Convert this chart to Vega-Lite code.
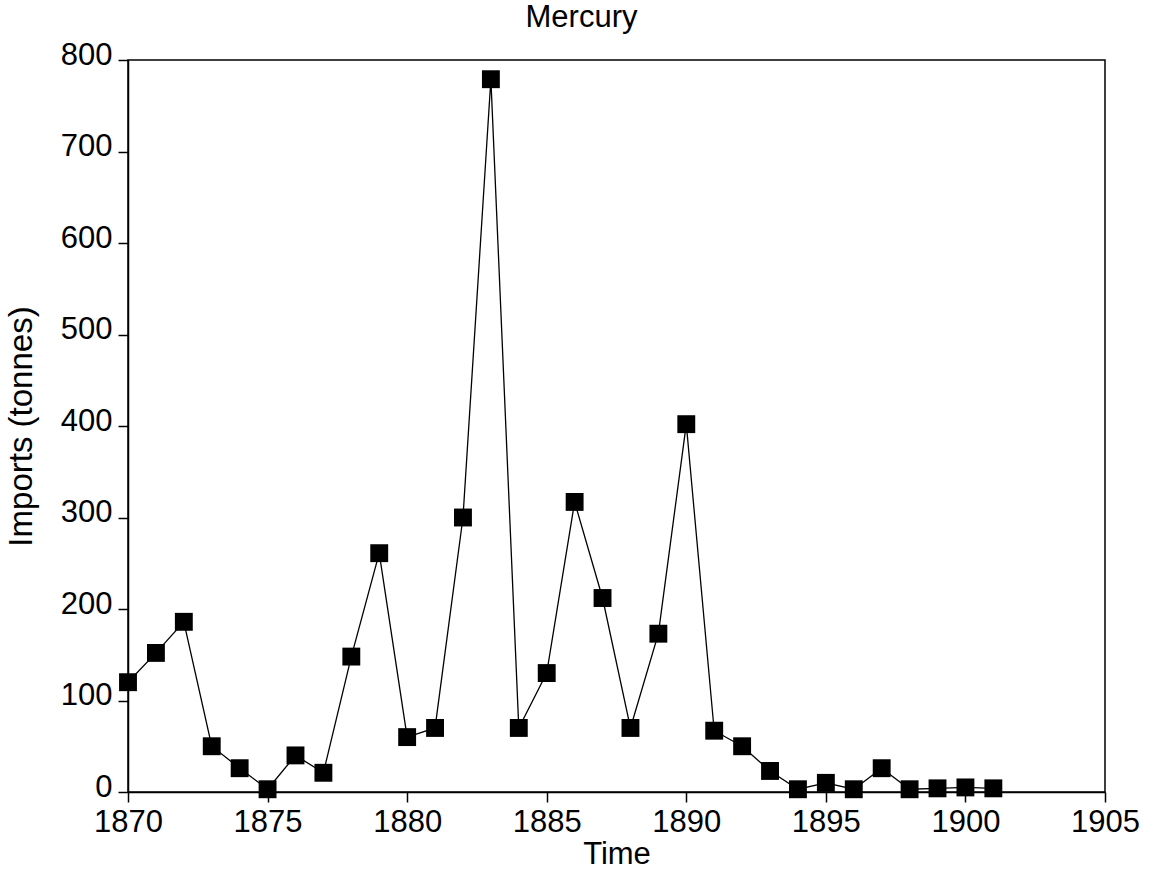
{
  "$schema": "https://vega.github.io/schema/vega-lite/v6.json",
  "width": 977,
  "height": 732,
  "autosize": {"type": "none"},
  "padding": {"left": 128, "top": 60, "right": 50, "bottom": 77},
  "background": "white",
  "title": {"text": "Mercury", "font": "Liberation Sans", "fontSize": 31, "fontWeight": "normal", "color": "black", "offset": 5, "dx": -35},
  "config": {
    "view": {"stroke": "black", "strokeWidth": 1.5},
    "axis": {"grid": false, "domainColor": "black", "domainWidth": 1.5, "tickColor": "black", "tickSize": 10, "tickWidth": 1.5,
      "labelFont": "Liberation Sans", "labelFontSize": 31, "labelColor": "black",
      "titleFont": "Liberation Sans", "titleFontSize": 31, "titleFontWeight": "normal", "titleColor": "black"}
  },
  "data": {"values": [
    {"year": 1870, "imports": 120},
    {"year": 1871, "imports": 152},
    {"year": 1872, "imports": 186},
    {"year": 1873, "imports": 50},
    {"year": 1874, "imports": 26},
    {"year": 1875, "imports": 3},
    {"year": 1876, "imports": 40},
    {"year": 1877, "imports": 21},
    {"year": 1878, "imports": 148},
    {"year": 1879, "imports": 261},
    {"year": 1880, "imports": 60},
    {"year": 1881, "imports": 70},
    {"year": 1882, "imports": 300},
    {"year": 1883, "imports": 779},
    {"year": 1884, "imports": 70},
    {"year": 1885, "imports": 130},
    {"year": 1886, "imports": 317},
    {"year": 1887, "imports": 212},
    {"year": 1888, "imports": 70},
    {"year": 1889, "imports": 173},
    {"year": 1890, "imports": 402},
    {"year": 1891, "imports": 67},
    {"year": 1892, "imports": 50},
    {"year": 1893, "imports": 23},
    {"year": 1894, "imports": 3},
    {"year": 1895, "imports": 10},
    {"year": 1896, "imports": 3},
    {"year": 1897, "imports": 26},
    {"year": 1898, "imports": 3},
    {"year": 1899, "imports": 4},
    {"year": 1900, "imports": 5},
    {"year": 1901, "imports": 4}
  ]},
  "encoding": {
    "x": {"field": "year", "type": "quantitative", "scale": {"domain": [1870, 1905], "nice": false, "zero": false},
      "axis": {"title": "Time", "values": [1870, 1875, 1880, 1885, 1890, 1895, 1900, 1905], "format": "d", "labelPadding": 5, "titlePadding": 2, "labelFlush": false, "labelOverlap": false}},
    "y": {"field": "imports", "type": "quantitative", "scale": {"domain": [0, 800], "nice": false},
      "axis": {"title": "Imports (tonnes)", "titleFontSize": 33, "values": [0, 100, 200, 300, 400, 500, 600, 700, 800], "labelPadding": 6, "labelOffset": -5, "titlePadding": 22, "labelFlush": false, "labelOverlap": false}}
  },
  "layer": [
    {"mark": {"type": "line", "color": "black", "strokeWidth": 1.3}},
    {"mark": {"type": "square", "color": "black", "filled": true, "opacity": 1, "size": 320}}
  ]
}
